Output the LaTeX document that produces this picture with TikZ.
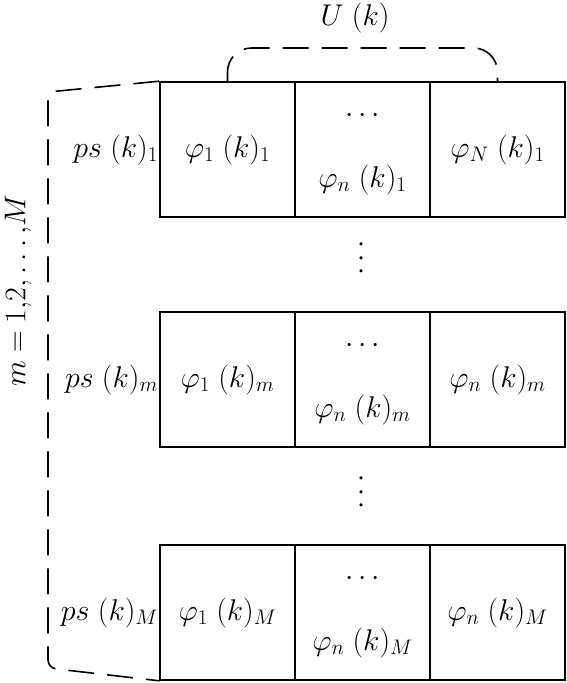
\RequirePackage{fix-cm}
\documentclass[tikz,border=0pt]{standalone}
\begin{document}
\begin{tikzpicture}[x=1pt,y=-1pt,
  cell/.style={draw, line width=1.6pt, minimum width=135pt, minimum height=135pt, inner sep=0pt},
  brace/.style={line width=1.6pt, dash pattern=on 26pt off 13pt},
  lbl/.style={font=\fontsize{30}{36}\selectfont, inner sep=2pt}]
  \useasboundingbox (0,0) rectangle (567,683);

  % rows of cells
  \foreach \r/\y/\s/\last in {1/149.5/1/N, 2/379.5/m/n, 3/612.5/M/n} {
    \node[cell] (a\r) at (227.5,\y) {};
    \node[cell] (b\r) at (362.5,\y) {};
    \node[cell] (c\r) at (497.5,\y) {};

    \node[lbl] (fa\r) at (a\r.center) {$\varphi_1\;(k)_\s$};
    \node[lbl] (dots\r) at ([yshift=34pt]b\r.center) {$\cdots$};
    \node[lbl] (fb\r) at ([yshift=-30pt]b\r.center) {$\varphi_n\;(k)_\s$};
    \node[lbl] (fc\r) at (c\r.center) {$\varphi_\last\;(k)_\s$};
    \node[lbl, anchor=east, inner sep=1pt] (ps\r) at (a\r.west) {$ps\;(k)_\s$};
  }

  \node[lbl, rotate=90] (vd1) at (362,258) {$\cdots$};
  \node[lbl, rotate=90] (vd2) at (362,492) {$\cdots$};

  % brackets
  \coordinate (top) at (0,48);
  \draw[brace, rounded corners=24pt]
    (a1.north) -- (a1.north |- top) -- (c1.north |- top) -- (c1.north);
  \node[lbl] (ulab) at (355,18) {$U\;(k)$};

  \coordinate (side) at (48,0);
  \draw[brace, rounded corners=8pt]
    (a1.north west) -- (side |- 0,92) -- (side |- 0,668) -- (a3.south west);
  \node[lbl, rotate=90] (mlab) at (18,291) {$m = 1{,}2{,}\ldots{,}M$};
\end{tikzpicture}
\end{document}
